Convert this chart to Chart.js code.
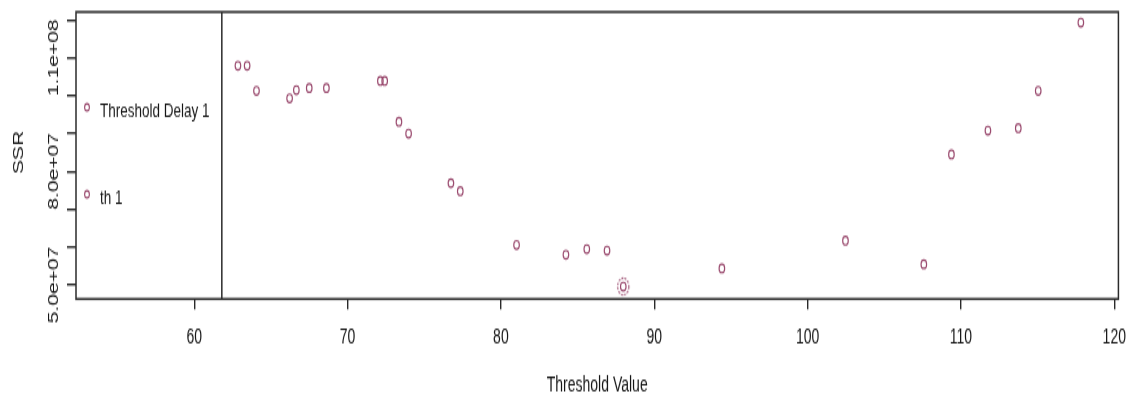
<!DOCTYPE html>
<html>
<head>
<meta charset="utf-8">
<script src="https://cdn.jsdelivr.net/npm/chart.js@4.4.0/dist/chart.umd.min.js"></script>
<style>
  html, body { margin: 0; padding: 0; background: #fff; }
  #outer { position: relative; width: 1136px; height: 396px; overflow: hidden; }
  /* the plot is drawn on a short canvas and stretched vertically */
  #wrap { position: absolute; left: 0; top: 0; width: 1136px; height: 264px; transform: scaleY(1.5); transform-origin: 0 0; }
  canvas { display: block; }
</style>
</head>
<body>
<div id="outer"><div id="wrap"><canvas id="c" width="1136" height="264"></canvas></div></div>
<script>
// Threshold search: SSR for each candidate threshold value
const thresholdValues = [
  62.85, 63.45, 64.06, 66.22, 66.66, 67.50, 68.62, 72.14, 72.42, 73.35,
  73.98, 76.74, 77.35, 81.02, 84.24, 85.60, 86.92, 87.98, 94.41, 102.47,
  107.58, 109.38, 111.76, 113.74, 115.04, 117.82
];
const ssrValues = [
  1.079e8, 1.079e8, 1.013e8, 9.93e7, 1.015e8, 1.020e8, 1.020e8, 1.039e8, 1.039e8, 9.31e7,
  9.00e7, 7.69e7, 7.48e7, 6.06e7, 5.80e7, 5.95e7, 5.91e7, 4.96e7, 5.44e7, 6.17e7,
  5.55e7, 8.45e7, 9.08e7, 9.14e7, 1.013e8, 1.193e8
];
// selected threshold (minimum SSR)
const bestThreshold = [87.98];
const bestSSR = [4.96e7];
// delay marker
const delayLine = 61.8;

const xTickValues = [60, 70, 80, 90, 100, 110, 120];
const yTickValues = [5e7, 6e7, 7e7, 8e7, 9e7, 1e8, 1.1e8, 1.2e8];
const yTickLabels = ['5.0e+07', '', '', '8.0e+07', '', '', '1.1e+08', ''];
const legendLabels = ['Threshold Delay 1', 'th 1'];

const pointColor = '#9a4a6e';
const inkColor = '#161616';
const fontFamily = "'Liberation Sans', Arial, sans-serif";

// dotted ring used to highlight the chosen threshold
const ring = document.createElement('canvas');
ring.width = 16; ring.height = 16;
(function () {
  const g = ring.getContext('2d');
  g.strokeStyle = pointColor;
  g.lineWidth = 1.1;
  g.setLineDash([1.8, 1.2]);
  g.beginPath();
  g.arc(8, 8, 5.6, 0, Math.PI * 2);
  g.stroke();
})();

const frame = {
  id: 'frame',
  afterDraw(chart) {
    const { ctx, chartArea: a, scales } = chart;
    ctx.save();
    // plot box
    ctx.strokeStyle = '#2b2b2b';
    ctx.lineWidth = 1.5;
    ctx.strokeRect(a.left, a.top, a.right - a.left, a.bottom - a.top);
    // delay line
    const vx = scales.x.getPixelForValue(delayLine);
    ctx.lineWidth = 1.5;
    ctx.beginPath();
    ctx.moveTo(vx, a.top);
    ctx.lineTo(vx, a.bottom);
    ctx.stroke();

    // rotated y tick labels
    ctx.fillStyle = inkColor;
    ctx.font = '14px ' + fontFamily;
    ctx.textAlign = 'center';
    ctx.textBaseline = 'middle';
    yTickValues.forEach((v, i) => {
      if (!yTickLabels[i]) return;
      const py = scales.y.getPixelForValue(v);
      ctx.save();
      ctx.translate(54, py);
      ctx.rotate(-Math.PI / 2);
      ctx.fillText(yTickLabels[i], 0, 0);
      ctx.restore();
    });
    // y title
    ctx.save();
    ctx.translate(19, (a.top + a.bottom) / 2 - 2);
    ctx.rotate(-Math.PI / 2);
    ctx.fillText('SSR', 0, 0);
    ctx.restore();

    // legend
    ctx.font = '13.5px ' + fontFamily;
    ctx.textAlign = 'left';
    const rows = [{ cy: 71.5, ty: 74.2 }, { cy: 129.5, ty: 132.6 }];
    legendLabels.forEach((t, i) => {
      ctx.strokeStyle = pointColor;
      ctx.lineWidth = 1.1;
      ctx.beginPath();
      ctx.arc(a.left + 11, rows[i].cy, 2.4, 0, Math.PI * 2);
      ctx.stroke();
      ctx.fillStyle = inkColor;
      ctx.fillText(t, a.left + 24, rows[i].ty);
    });
    ctx.restore();
  }
};

new Chart(document.getElementById('c'), {
  type: 'scatter',
  data: {
    datasets: [
      {
        data: thresholdValues.map((x, i) => ({ x, y: ssrValues[i] })),
        pointStyle: 'circle',
        pointRadius: 2.8,
        pointHoverRadius: 2.8,
        borderColor: pointColor,
        backgroundColor: 'rgba(0,0,0,0)',
        borderWidth: 1.15
      },
      {
        data: bestThreshold.map((x, i) => ({ x, y: bestSSR[i] })),
        pointStyle: ring,
        pointRadius: 6,
        borderColor: pointColor,
        backgroundColor: 'rgba(0,0,0,0)'
      }
    ]
  },
  options: {
    responsive: false,
    animation: false,
    devicePixelRatio: 1,
    events: [],
    layout: { padding: { left: 0, right: 11, top: 8, bottom: 0 } },
    plugins: { legend: { display: false }, tooltip: { enabled: false } },
    scales: {
      x: {
        type: 'linear',
        min: 52.29,
        max: 120.27,
        afterBuildTicks: s => { s.ticks = xTickValues.map(v => ({ value: v })); },
        afterFit: s => { s.height = 64.7; },
        border: { display: false },
        grid: { drawOnChartArea: false, drawTicks: true, tickLength: 7, color: '#2b2b2b', lineWidth: 1.4 },
        ticks: {
          color: inkColor,
          font: { family: fontFamily, size: 14 },
          padding: 10,
          maxRotation: 0,
          autoSkip: false,
          callback: v => String(v)
        },
        title: {
          display: true,
          text: 'Threshold Value',
          color: inkColor,
          font: { family: fontFamily, size: 14, lineHeight: 1 },
          padding: { top: 0, bottom: 0 }
        }
      },
      y: {
        type: 'linear',
        min: 4.632e7,
        max: 1.221e8,
        afterBuildTicks: s => { s.ticks = yTickValues.map(v => ({ value: v })); },
        afterFit: s => { s.width = 76; },
        border: { display: false },
        grid: { drawOnChartArea: false, drawTicks: true, tickLength: 9, color: '#2b2b2b', lineWidth: 1.4 },
        ticks: { callback: () => '', padding: 0 }
      }
    }
  },
  plugins: [frame]
});
</script>
</body>
</html>
